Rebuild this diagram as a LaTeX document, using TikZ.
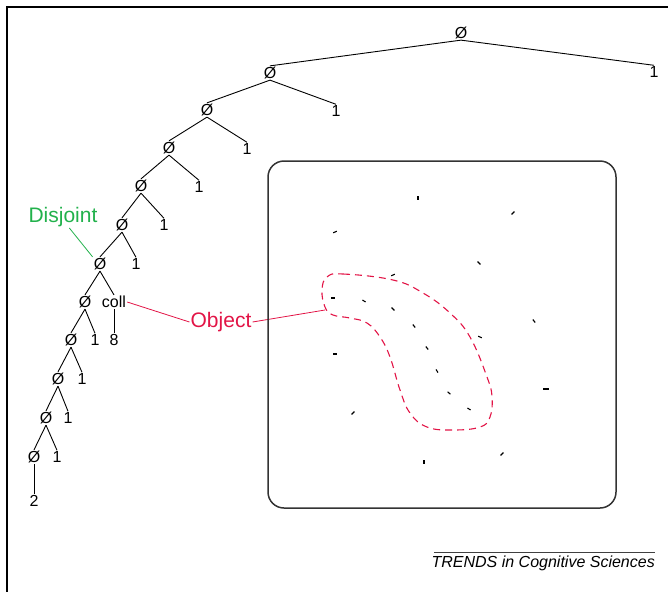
\documentclass[tikz,border=0pt]{standalone}
\usepackage{fontspec}
\setmainfont{Liberation Sans}
\definecolor{disgreen}{RGB}{34,177,76}
\definecolor{objred}{RGB}{226,20,70}
\tikzset{
  lbl/.style={inner sep=1pt, font=\fontsize{16}{18}\selectfont},
  edge/.style={black, line width=0.9pt},
  callout/.style={inner sep=1pt, font=\fontsize{21}{24}\selectfont},
  tick/.style={black, line width=1.1pt},
}
\begin{document}
\begin{tikzpicture}[x=1pt,y=-1pt]
\useasboundingbox (0,0) rectangle (668,592);
% frame
\draw [line width=1.5pt] (668,7) -- (7,7) -- (7,592);
% tree
\node[lbl] (a0) at (461,33) {Ø};
\node[lbl] (b0) at (654,72) {1};
\node[lbl] (a1) at (270,73) {Ø};
\node[lbl] (b1) at (336,111) {1};
\node[lbl] (a2) at (207,110) {Ø};
\node[lbl] (b2) at (247,149) {1};
\node[lbl] (a3) at (169,148) {Ø};
\node[lbl] (b3) at (199,187) {1};
\node[lbl] (a4) at (141,186) {Ø};
\node[lbl] (b4) at (164,225) {1};
\node[lbl] (a5) at (122,225) {Ø};
\node[lbl] (b5) at (136,264) {1};
\node[lbl] (a6) at (100,264) {Ø};
\node[lbl] (a7) at (85,302) {Ø};
\node[lbl] (coll) at (114,302) {coll};
\node[lbl] (b8) at (114,340) {8};
\node[lbl] (a8) at (71,340) {Ø};
\node[lbl] (b7) at (95,340) {1};
\node[lbl] (a9) at (58,379) {Ø};
\node[lbl] (b9) at (82,379) {1};
\node[lbl] (a10) at (46,418) {Ø};
\node[lbl] (b10) at (68,418) {1};
\node[lbl] (a11) at (34,457) {Ø};
\node[lbl] (b11) at (57,457) {1};
\node[lbl] (b12) at (34,501) {2};
\foreach \p/\c in {a0/a1,a0/b0,a1/a2,a1/b1,a2/a3,a2/b2,a3/a4,a3/b3,a4/a5,a4/b4,
  a5/a6,a5/b5,a6/a7,a6/coll,coll/b8,a7/a8,a7/b7,a8/a9,a8/b9,a9/a10,a9/b10,
  a10/a11,a10/b11,a11/b12}
  \draw [edge] (\p.south) -- (\c.north);
% labels
\node[callout, text=disgreen] (dis) at (63,217) {Disjoint};
\draw [disgreen, line width=0.8pt] (dis.300) -- (a6.north west);
\node[callout, text=objred] (obj) at (221,322) {Object};
\coordinate (blobtip) at (325,310);
\draw [objred, line width=0.8pt] (coll.east) -- (obj.west);
\draw [objred, line width=0.8pt] (obj.east) -- (blobtip);
% display
\draw [line width=1.5pt, black!80, rounded corners=16pt] (268,161) rectangle (616,508);
\draw [objred, line width=1.1pt, dash pattern=on 7pt off 5pt]
  plot[smooth cycle, tension=0.7] coordinates {(327,277) (343,274) (393,280)
  (423,293) (450,313) (470,337) (487,377) (492,397) (490,417) (480,427)
  (453,430) (427,427) (410,413) (400,390) (390,357) (380,337) (367,323)
  (350,318) (333,315) (325,307) (322,290)};
\foreach \x/\y/\dx/\dy in {418/198/0/2, 513/213/1.4/-1.4, 335/232/1.8/-0.8,
  479/263/1.4/1.4, 393/275/1.8/-0.8, 333/298/2/0, 364/301/1.6/1, 393/309/1.4/1.4,
  414/326/1.2/1.5, 480/337/1.8/0.8, 534/321/1.2/1.5, 335/354/2/0, 427/348/1.2/1.5,
  437/371/1/1.6, 449/393/1.4/1.2, 469/409/1.6/1, 546/389/2.6/0, 353/413/1.4/-1.4,
  424/462/0/2, 502/454/1.4/-1.4}
  \draw [tick] ({\x-(\dx)},{\y-(\dy)}) -- ({\x+(\dx)},{\y+(\dy)});
% source line
\draw [line width=0.8pt, black!75] (434,552) -- (655,552);
\node[inner sep=0pt, anchor=east, font=\fontsize{16}{18}\selectfont\itshape] (src) at (655,563) {TRENDS in Cognitive Sciences};
\end{tikzpicture}
\end{document}
